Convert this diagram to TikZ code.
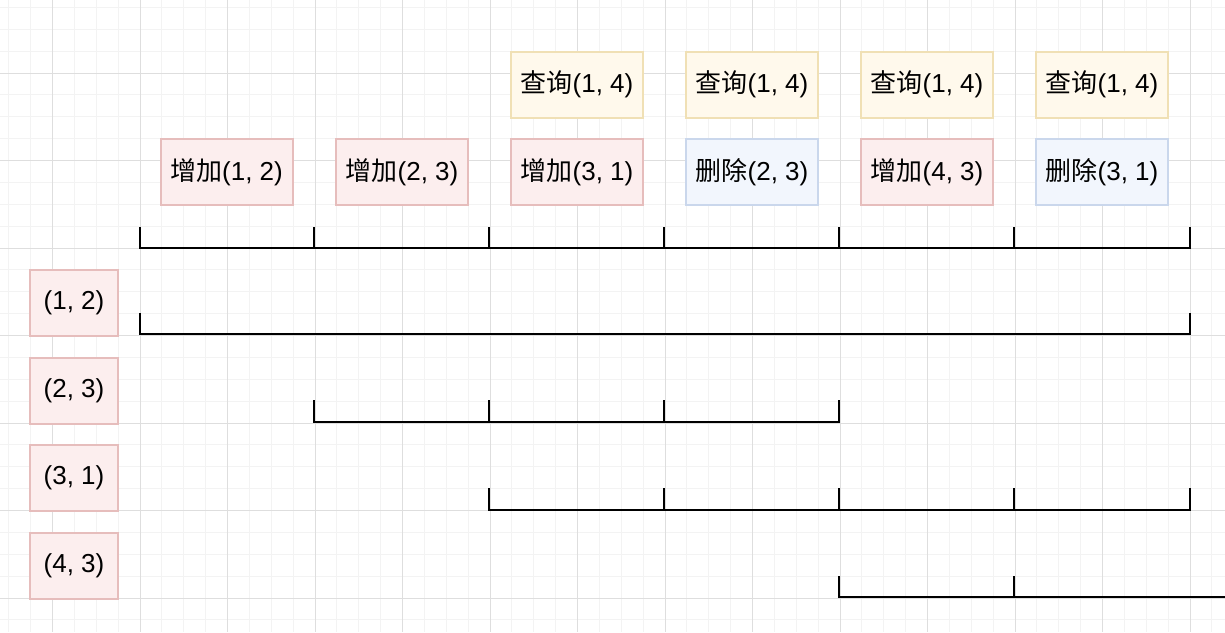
\documentclass[tikz,border=0pt]{standalone}
\usepackage{fontspec}
\setmainfont{Liberation Sans}
\newfontfamily\cjk{Noto Sans CJK SC}
\definecolor{gridminor}{HTML}{F3F3F3}
\definecolor{gridmajor}{HTML}{DEDEDE}
\definecolor{redfill}{HTML}{FCEEEE}
\definecolor{redline}{HTML}{E6BDBC}
\definecolor{yelfill}{HTML}{FFF9EC}
\definecolor{yelline}{HTML}{F0E0B5}
\definecolor{bluefill}{HTML}{F2F6FD}
\definecolor{blueline}{HTML}{CAD7EC}
\tikzset{
  box/.style={rectangle, line width=2pt, minimum height=66pt, inner sep=0pt,
    font=\fontsize{26}{30}\selectfont},
  opbox/.style={box, minimum width=132pt},
  keybox/.style={box, minimum width=88pt},
  addbox/.style={fill=redfill, draw=redline},
  qbox/.style={fill=yelfill, draw=yelline},
  delbox/.style={fill=bluefill, draw=blueline},
  seg/.style={line width=2pt, black, line cap=rect},
  tick/.style={line width=2pt, black},
}
\begin{document}
\begin{tikzpicture}[x=1pt,y=-1pt]
\useasboundingbox (0,0) rectangle (1225,632);
\fill[white] (0,0) rectangle (1225,632);
% grid
\foreach \i in {0,...,55} {\draw[gridminor, line width=1pt] ({8.75+\i*21.875},0) -- ({8.75+\i*21.875},632);}
\foreach \i in {0,...,28} {\draw[gridminor, line width=1pt] (0,{7.375+\i*21.875}) -- (1225,{7.375+\i*21.875});}
\foreach \i in {0,...,13} {\draw[gridmajor, line width=1pt] ({52.5+\i*87.5},0) -- ({52.5+\i*87.5},632);}
\foreach \i in {0,...,6} {\draw[gridmajor, line width=1pt] (0,{73+\i*87.5}) -- (1225,{73+\i*87.5});}

% query row
\node[opbox, qbox] (q1) at (577,84.5) {{\cjk 查询}(1, 4)};
\node[opbox, qbox] (q2) at (752,84.5) {{\cjk 查询}(1, 4)};
\node[opbox, qbox] (q3) at (927,84.5) {{\cjk 查询}(1, 4)};
\node[opbox, qbox] (q4) at (1102,84.5) {{\cjk 查询}(1, 4)};
% operation row
\node[opbox, addbox] (o1) at (226.5,172) {{\cjk 增加}(1, 2)};
\node[opbox, addbox] (o2) at (402,172) {{\cjk 增加}(2, 3)};
\node[opbox, addbox] (o3) at (577,172) {{\cjk 增加}(3, 1)};
\node[opbox, delbox] (o4) at (752,172) {{\cjk 删除}(2, 3)};
\node[opbox, addbox] (o5) at (927,172) {{\cjk 增加}(4, 3)};
\node[opbox, delbox] (o6) at (1102,172) {{\cjk 删除}(3, 1)};
% key boxes
\node[keybox, addbox] (k1) at (74,303) {(1, 2)};
\node[keybox, addbox] (k2) at (74,391) {(2, 3)};
\node[keybox, addbox] (k3) at (74,478) {(3, 1)};
\node[keybox, addbox] (k4) at (74,566) {(4, 3)};

% timeline tick positions
\foreach \n/\x in {0/140,1/314,2/489,3/664,4/839,5/1014,6/1190} {\coordinate (t\n) at (\x,0);}

% main timeline
\draw[seg] (t0 |- 0,248) -- (t6 |- 0,248);
\foreach \n in {0,...,6} {\draw[tick] (t\n |- 0,248) -- (t\n |- 0,227);}
% (1,2)
\draw[seg] (t0 |- 0,333.5) -- (t6 |- 0,333.5);
\foreach \n in {0,6} {\draw[tick] (t\n |- 0,333.5) -- (t\n |- 0,313);}
% (2,3)
\draw[seg] (t1 |- 0,421.5) -- (t4 |- 0,421.5);
\foreach \n in {1,2,3,4} {\draw[tick] (t\n |- 0,421.5) -- (t\n |- 0,400);}
% (3,1)
\draw[seg] (t2 |- 0,509.5) -- (t6 |- 0,509.5);
\foreach \n in {2,3,4,5,6} {\draw[tick] (t\n |- 0,509.5) -- (t\n |- 0,488);}
% (4,3)
\coordinate (tend) at (1226,596.5);
\draw[seg] (t4 |- 0,596.5) -- (tend);
\foreach \n in {4,5} {\draw[tick] (t\n |- 0,596.5) -- (t\n |- 0,576);}
\end{tikzpicture}
\end{document}
